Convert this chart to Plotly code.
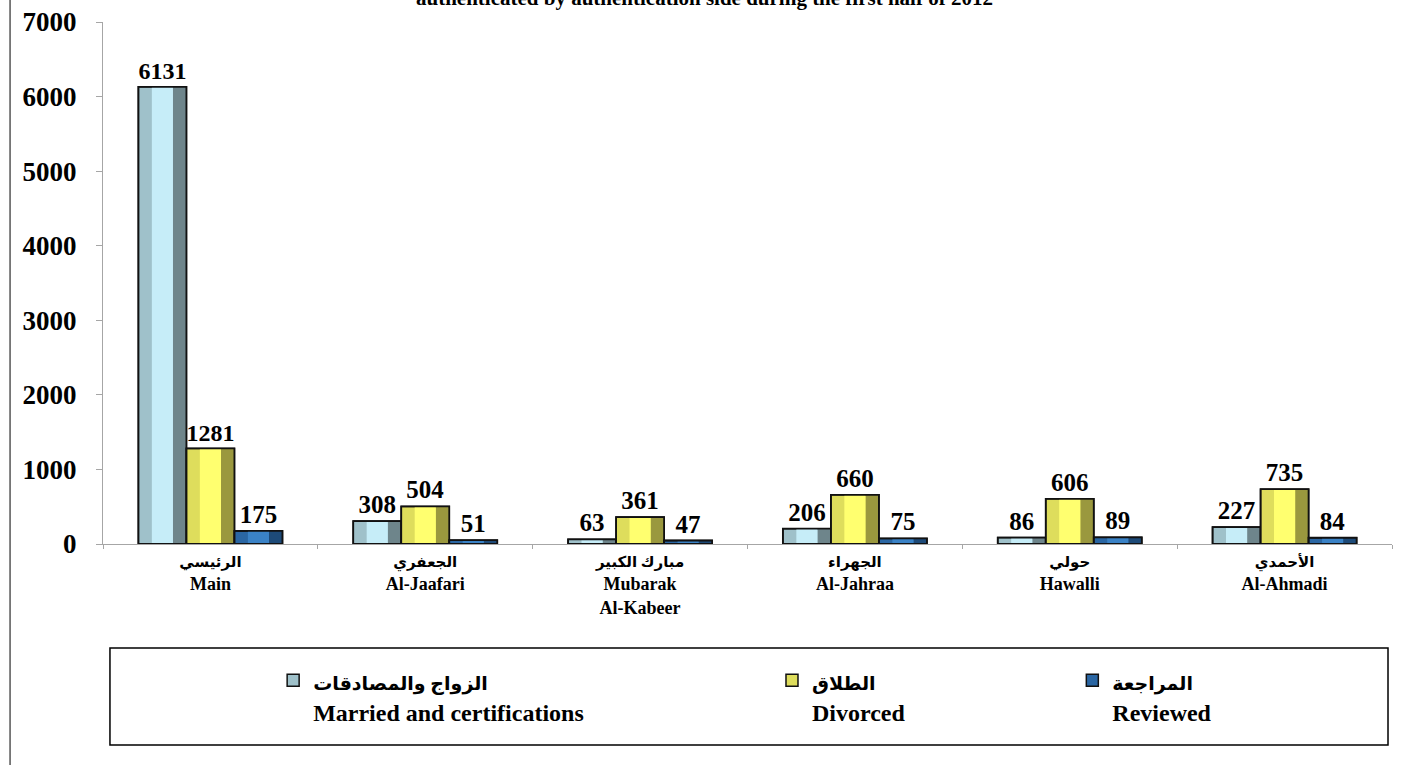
import plotly.graph_objects as go

categories = [
    "<span style='font-size:15px'>الرئيسي</span><br>Main",
    "<span style='font-size:15px'>الجعفري</span><br>Al-Jaafari",
    "<span style='font-size:15px'>مبارك الكبير</span><br>Mubarak<br>Al-Kabeer",
    "<span style='font-size:15px'>الجهراء</span><br>Al-Jahraa",
    "<span style='font-size:15px'>حولي</span><br>Hawalli",
    "<span style='font-size:15px'>الأحمدي</span><br>Al-Ahmadi",
]
married = [6131, 308, 63, 206, 86, 227]
divorced = [1281, 504, 361, 660, 606, 735]
reviewed = [175, 51, 47, 75, 89, 84]
series_names = [
    "<span style='font-size:19px'>الزواج والمصادقات</span><br>Married and certifications",
    "<span style='font-size:19px'>الطلاق</span><br>Divorced",
    "<span style='font-size:19px'>المراجعة</span><br>Reviewed",
]
y_ticks = [0, 1000, 2000, 3000, 4000, 5000, 6000, 7000]
title_text = "authenticated by authentication side during the first half of 2012"

FONT = "Liberation Serif, 'Times New Roman', DejaVu Sans, serif"

# (right/dark side, left side, center)
palettes = [
    ("#6e858b", "#9fc1ca", "#c6edf8"),
    ("#9a983e", "#dedd5c", "#ffff6f"),
    ("#1d4a78", "#2a66a3", "#3a82c6"),
]
series = [married, divorced, reviewed]
legends = ["legend", "legend2", "legend3"]

w = 0.2235
offsets = [-1.5 * w, -0.5 * w, 0.5 * w]

fig = go.Figure()
for i, vals in enumerate(series):
    dark, left, center = palettes[i]
    o = offsets[i]
    fig.add_trace(go.Bar(
        x=categories, y=vals, name=series_names[i], offset=o, width=w,
        marker=dict(color=left, line=dict(color="#111111", width=1.5)),
        legend=legends[i], showlegend=True, hoverinfo="skip",
    ))
    fig.add_trace(go.Bar(
        x=categories, y=vals, offset=o + 0.72 * w, width=0.28 * w,
        marker=dict(color=dark, line=dict(width=0)),
        showlegend=False, hoverinfo="skip",
    ))
    fig.add_trace(go.Bar(
        x=categories, y=vals, offset=o + 0.28 * w, width=0.44 * w,
        marker=dict(color=center, line=dict(width=0)),
        showlegend=False, hoverinfo="skip",
    ))
    fig.add_trace(go.Bar(
        x=categories, y=vals, offset=o, width=w,
        marker=dict(color="rgba(0,0,0,0)", line=dict(color="#111111", width=1.8)),
        text=[str(v) for v in vals], textposition="outside",
        textfont=dict(family=FONT, size=25, color="#000000", weight="bold"),
        cliponaxis=False, showlegend=False,
    ))

legend_common = dict(
    orientation="v", yanchor="top", valign="top",
    font=dict(family=FONT, size=24, color="#000000", weight="bold"),
    bgcolor="rgba(0,0,0,0)", borderwidth=0, itemclick=False,
)

fig.update_layout(
    width=1413, height=765,
    margin=dict(l=103, r=21, t=22, b=221, autoexpand=False),
    paper_bgcolor="white", plot_bgcolor="white",
    barmode="overlay",
    font=dict(family=FONT, size=18, color="#000000", weight="bold"),
    xaxis=dict(
        showline=True, linecolor="#a6a6a6", linewidth=1.2,
        ticks="outside", tickson="boundaries", ticklen=4, tickcolor="#a6a6a6",
        tickfont=dict(family=FONT, size=18, color="#000000", weight="bold"),
        showgrid=False, zeroline=False,
    ),
    yaxis=dict(
        range=[0, 7000], tickvals=y_ticks,
        showline=True, linecolor="#a6a6a6", linewidth=1.2,
        ticks="outside", ticklen=6, tickcolor="#a6a6a6",
        ticklabelstandoff=14,
        tickfont=dict(family=FONT, size=27, color="#000000", weight="bold"),
        showgrid=False, zeroline=False,
    ),
    legend=dict(x=0.132, y=-0.2186, **legend_common),
    legend2=dict(x=0.519, y=-0.2186, **legend_common),
    legend3=dict(x=0.752, y=-0.2186, **legend_common),
    showlegend=True,
)

fig.add_annotation(
    text="<b>" + title_text + "</b>", xref="paper", yref="paper",
    x=0.467, y=1.019, xanchor="center", yanchor="bottom", showarrow=False,
    font=dict(family=FONT, size=21, color="#000000"),
)

fig.add_shape(type="rect", xref="paper", yref="paper",
              x0=0.0054, x1=0.9969, y0=-0.385, y1=-0.1992,
              line=dict(color="#000000", width=1.5), fillcolor="rgba(0,0,0,0)")
fig.add_shape(type="line", xref="paper", yref="paper",
              x0=-0.0721, x1=-0.0721, y0=-0.43, y1=1.05,
              line=dict(color="#555555", width=1.5))

fig.write_html("out.html", config={"displayModeBar": False},
               post_script="document.body.style.margin='0px';")
